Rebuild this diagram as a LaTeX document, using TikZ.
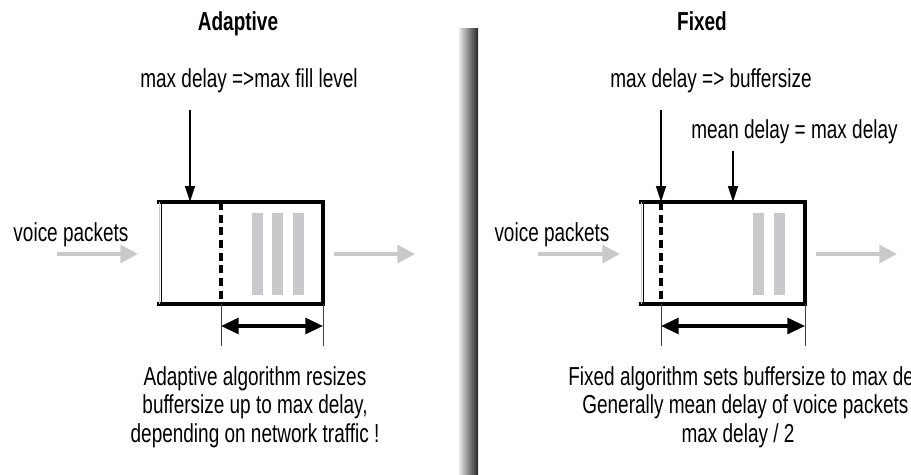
\documentclass[tikz,border=0pt]{standalone}
\usepackage{fontspec}
\setmainfont{Liberation Sans}[FakeStretch=0.73]
\usepackage{tikz}
\usetikzlibrary{arrows.meta,positioning,calc}
\definecolor{packet-grey}{HTML}{C8C9CB}
\definecolor{wall-light}{HTML}{E8E8E8}
\definecolor{wall-dark}{HTML}{262626}

\begin{document}
\begin{tikzpicture}[x=0.02cm,y=-0.02cm,
  txt/.style={font=\fontsize{14.8}{16.2}\selectfont,align=center,inner sep=0pt},
  title/.style={font=\fontsize{14.8}{16.2}\selectfont\bfseries,inner sep=0pt},
  buffer/.style={minimum width=3.28cm,minimum height=2.04cm,inner sep=0pt,outer sep=0pt},
  bufframe/.style={line width=1.8pt,line cap=rect},
  levelcut/.style={line width=1.8pt,dash pattern=on 4.6pt off 2.6pt},
  packet/.style={fill=packet-grey,draw=none},
  flow/.style={packet-grey,line width=2.3pt,-{Triangle[length=10pt,width=10pt]}},
  marker/.style={line width=1.2pt,-{Triangle[length=9pt,width=5.5pt]}},
  span/.style={line width=1.8pt,{Triangle[length=10pt,width=9pt]}-{Triangle[length=10pt,width=9pt]}},
  guide/.style={line width=0.5pt,black!75}]
  \useasboundingbox (0,0) rectangle (911,474);
  \clip (0,0) rectangle (911,474);

  % separator
  \shade[left color=wall-light,right color=wall-dark] (459,28) rectangle (478,474);

  % adaptive buffer
  \node[title,anchor=base] (atitle) at (238,30) {Adaptive};
  \node[txt,anchor=base] (amaxlbl) at (249,87) {max delay =>max fill level};
  \node[txt,anchor=base] (ainlbl) at (71,241) {voice packets};
  \node[buffer] (abuf) at (241,253) {};
  \draw[bufframe] (abuf.north west) -- (abuf.north east) -- (abuf.south east) -- (abuf.south west);
  \draw[line width=0.4pt,black!20] (abuf.north west) -- (abuf.south west);
  \draw[line width=0.6pt] ([xshift=1.3pt]abuf.north west) -- ([xshift=1.3pt]abuf.south west);
  \fill[packet] (252,213) rectangle (263,295);
  \fill[packet] (272,213) rectangle (283,295);
  \fill[packet] (293,213) rectangle (304,295);
  \draw[levelcut] (221,202) -- (221,304);
  \coordinate (amaxtop) at (190,110);
  \coordinate (amaxend) at (190,202);
  \draw[marker] (amaxtop) -- (amaxend);
  \coordinate (ain) at (57,254);
  \coordinate (ainend) at (138,254);
  \coordinate (aout) at (334,254);
  \coordinate (aoutend) at (415,254);
  \draw[flow] (ain) -- (ainend);
  \draw[flow] (aout) -- (aoutend);
  \coordinate (aspl) at (221,326);
  \coordinate (aspr) at (323,326);
  \draw[guide] (221,304) -- (221,346);
  \draw[guide] (323,304) -- (323,346);
  \draw[span] (aspl) -- (aspr);
  \node[txt,anchor=base] (anote) at (255,442)
    {Adaptive algorithm resizes\\buffersize up to max delay,\\depending on network traffic !};

  % fixed buffer
  \node[title,anchor=base] (ftitle) at (702,30) {Fixed};
  \node[txt,anchor=base] (fmaxlbl) at (711,87) {max delay => buffersize};
  \node[txt,anchor=base west] (fmeanlbl) at (691,138) {mean delay = max delay};
  \node[txt,anchor=base] (finlbl) at (552,241) {voice packets};
  \node[buffer] (fbuf) at (723,253) {};
  \draw[bufframe] (fbuf.north west) -- (fbuf.north east) -- (fbuf.south east) -- (fbuf.south west);
  \draw[line width=0.4pt,black!20] (fbuf.north west) -- (fbuf.south west);
  \draw[line width=0.6pt] ([xshift=1.3pt]fbuf.north west) -- ([xshift=1.3pt]fbuf.south west);
  \fill[packet] (753,213) rectangle (764,295);
  \fill[packet] (774,213) rectangle (785,295);
  \draw[levelcut] (661,202) -- (661,304);
  \coordinate (fmaxtop) at (661,110);
  \coordinate (fmaxend) at (661,202);
  \draw[marker] (fmaxtop) -- (fmaxend);
  \coordinate (fmeantop) at (733,151);
  \coordinate (fmeanend) at (733,202);
  \draw[marker] (fmeantop) -- (fmeanend);
  \coordinate (fin) at (538,254);
  \coordinate (finend) at (620,254);
  \coordinate (fout) at (816,254);
  \coordinate (foutend) at (897,254);
  \draw[flow] (fin) -- (finend);
  \draw[flow] (fout) -- (foutend);
  \coordinate (fspl) at (661,326);
  \coordinate (fspr) at (805,326);
  \draw[guide] (661,304) -- (661,346);
  \draw[guide] (805,304) -- (805,346);
  \draw[span] (fspl) -- (fspr);
  \node[txt,anchor=base west] (fnotea) at (568,385) {Fixed algorithm sets buffersize to max delay};
  \node[txt,anchor=base west] (fnoteb) at (582,413) {Generally mean delay of voice packets};
  \node[txt,anchor=base] (fnotec) at (738,442) {max delay / 2};
\end{tikzpicture}
\end{document}
